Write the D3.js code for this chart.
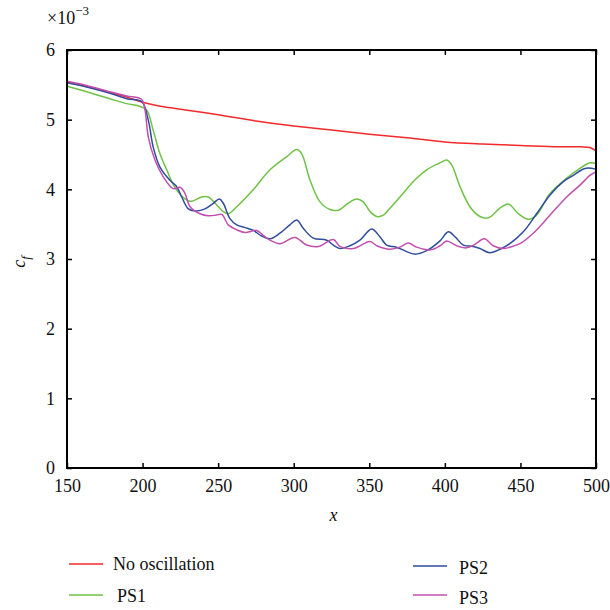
<!DOCTYPE html>
<html><head><meta charset="utf-8">
<script src="https://cdn.jsdelivr.net/npm/d3@7"></script>
<style>
html,body{margin:0;padding:0;background:#fff;}
svg{display:block;}
</style></head>
<body>
<svg id="chart" width="610" height="610"></svg>
<script>
// ---- data ----
const xTicks = [150,200,250,300,350,400,450,500];
const yTicks = [0,1,2,3,4,5,6];

const noOscX = [150,160,170,180,190,200,210,225,250,275,300,325,350,375,400,425,450,475,490,496,500];
const noOscY = [5.54,5.49,5.44,5.38,5.32,5.25,5.20,5.15,5.07,4.98,4.91,4.85,4.79,4.74,4.68,4.65,4.63,4.61,4.61,4.60,4.55];

const ps1X = [150,163,178.4,189.5,198.3,202.7,207,211.5,216,220,223.6,229,232.5,239,243.5,248,253.4,256.7,262.3,273,284.3,295.4,302,305.3,310.8,317.4,324,329.5,336,341.7,346,350.5,355,359.3,363.7,370.3,379,388,396.8,401.2,404.5,410,416.6,423.2,428.7,436.5,442,448.6,455.2,460.7,469.6,480.6,489.4,496,500];
const ps1Y = [5.48,5.40,5.30,5.23,5.19,5.14,4.85,4.51,4.28,4.08,3.96,3.85,3.83,3.89,3.89,3.80,3.68,3.65,3.75,3.99,4.28,4.47,4.57,4.51,4.13,3.82,3.71,3.70,3.80,3.86,3.82,3.68,3.61,3.63,3.73,3.89,4.11,4.28,4.38,4.42,4.35,4.04,3.75,3.61,3.59,3.73,3.79,3.65,3.57,3.63,3.94,4.16,4.30,4.38,4.37];

const ps2X = [150,163,178.4,189.5,199.4,203.8,207,211.5,218.1,222.5,225.9,230.3,235.8,241.3,246.8,250.8,253.4,257.8,262.3,267.8,273.3,278.8,284.3,290.9,297.5,302,306.3,312.9,321.8,326.2,330.6,337.2,343.8,351.6,357,361.5,368,380.2,388,396.8,402.3,406.7,412.2,418.8,423.2,429.8,436.5,443,451.9,460.7,469.6,478.4,485,492.7,500];
const ps2Y = [5.53,5.47,5.38,5.30,5.26,4.99,4.61,4.32,4.13,4.04,3.89,3.72,3.69,3.72,3.80,3.86,3.80,3.58,3.49,3.45,3.41,3.33,3.29,3.37,3.49,3.56,3.44,3.30,3.27,3.20,3.15,3.19,3.27,3.43,3.32,3.20,3.17,3.07,3.12,3.26,3.39,3.32,3.20,3.18,3.15,3.09,3.14,3.22,3.39,3.65,3.92,4.11,4.20,4.30,4.29];

const ps3X = [150,163,178.4,189.5,199.4,201.6,203.8,208.2,213.7,220.3,224.8,228.1,231.4,238,243.5,249,252.4,256.7,262.3,267.8,275.5,279.9,284.3,290.9,300.8,308.6,316.3,326.2,330.6,339.4,350.5,355,363.7,370.3,375.8,381.4,390.2,396.8,401.2,407.8,414.4,419.9,426.1,432,438.7,443,449.7,458.5,469.6,480.6,489.4,496,500];
const ps3Y = [5.55,5.49,5.40,5.34,5.29,5.14,4.75,4.42,4.18,4.01,4.03,3.94,3.75,3.65,3.62,3.63,3.64,3.49,3.42,3.38,3.41,3.34,3.27,3.22,3.31,3.20,3.18,3.28,3.18,3.15,3.25,3.19,3.14,3.17,3.23,3.17,3.13,3.19,3.26,3.19,3.16,3.21,3.29,3.19,3.15,3.17,3.22,3.37,3.63,3.89,4.06,4.20,4.25];

const seriesNames = ["No oscillation","PS1","PS2","PS3"];
const seriesColors = ["#f22a2a","#6fc246","#2f4c9e","#c24fae"];

// ---- layout ----
const FONT = "'Liberation Serif','Times New Roman',Times,'DejaVu Serif','Noto Serif',serif";
const svg = d3.select("#chart");
const L = 67, R = 596, T = 50, B = 468;
const x = d3.scaleLinear().domain([150,500]).range([L,R]);
const y = d3.scaleLinear().domain([0,6]).range([B,T]);

const series = [
  {name:seriesNames[0], color:seriesColors[0], xs:noOscX, ys:noOscY},
  {name:seriesNames[1], color:seriesColors[1], xs:ps1X, ys:ps1Y},
  {name:seriesNames[2], color:seriesColors[2], xs:ps2X, ys:ps2Y},
  {name:seriesNames[3], color:seriesColors[3], xs:ps3X, ys:ps3Y}
];

const lineGen = d3.line().x(d=>x(d[0])).y(d=>y(d[1])).curve(d3.curveCatmullRom.alpha(0.5));

series.forEach(s=>{
  const pts = s.xs.map((v,j)=>[v,s.ys[j]]);
  svg.append("path").datum(pts)
    .attr("d",lineGen).attr("fill","none")
    .attr("stroke",s.color).attr("stroke-width",1.5);
});

// ---- axes ----
const fs = 18;
const gBottom = svg.append("g").attr("transform",`translate(0,${B})`)
  .call(d3.axisBottom(x).tickValues(xTicks).tickFormat(d3.format("d")).tickSizeInner(-5).tickSizeOuter(0).tickPadding(11));
const gTop = svg.append("g").attr("transform",`translate(0,${T})`)
  .call(d3.axisTop(x).tickValues(xTicks).tickSizeInner(-5).tickSizeOuter(0).tickFormat(""));
const gLeft = svg.append("g").attr("transform",`translate(${L},0)`)
  .call(d3.axisLeft(y).tickValues(yTicks).tickFormat(d3.format("d")).tickSizeInner(-5).tickSizeOuter(0).tickPadding(12));
const gRight = svg.append("g").attr("transform",`translate(${R},0)`)
  .call(d3.axisRight(y).tickValues(yTicks).tickSizeInner(-5).tickSizeOuter(0).tickFormat(""));

[gBottom,gTop,gLeft,gRight].forEach(g=>{
  g.attr("font-family",null).attr("font-size",null);
  g.select(".domain").remove();
  g.selectAll(".tick line").attr("stroke","#000").attr("stroke-width",1.5);
  g.selectAll("text").style("font-family",FONT).style("font-size",fs+"px").attr("fill","#111");
});

svg.append("rect").attr("x",L).attr("y",T).attr("width",R-L).attr("height",B-T)
  .attr("fill","none").attr("stroke","#000").attr("stroke-width",2);

function txt(sel){ return sel.style("font-family",FONT).attr("fill","#111"); }

// exponent label
const ex = txt(svg.append("text")).attr("x",47).attr("y",24).style("font-size",fs+"px");
ex.append("tspan").text("×10");
ex.append("tspan").attr("dy",-9).style("font-size","13px").text("−3");

// axis titles
txt(svg.append("text")).attr("x",(L+R)/2+2).attr("y",521).attr("text-anchor","middle")
  .style("font-size",fs+"px").style("font-style","italic").text("x");
const yl = txt(svg.append("text")).attr("transform","translate(25,262) rotate(-90)")
  .attr("text-anchor","middle").style("font-size",fs+"px").style("font-style","italic");
yl.append("tspan").text("c");
yl.append("tspan").attr("dy",5).style("font-size","13px").text("f");

// ---- legend ----
const legendPos = [
  {lx:69, ly:564, tx:113, ty:570},
  {lx:69, ly:595, tx:117, ty:602},
  {lx:413, ly:566, tx:459, ty:574},
  {lx:413, ly:595, tx:459, ty:604}
];
series.forEach((s,i)=>{
  const p = legendPos[i];
  svg.append("line").attr("x1",p.lx).attr("x2",p.lx+34).attr("y1",p.ly).attr("y2",p.ly)
    .attr("stroke",s.color).attr("stroke-width",1.5);
  txt(svg.append("text")).attr("x",p.tx).attr("y",p.ty).style("font-size",fs+"px").text(s.name);
});
</script>
</body></html>
